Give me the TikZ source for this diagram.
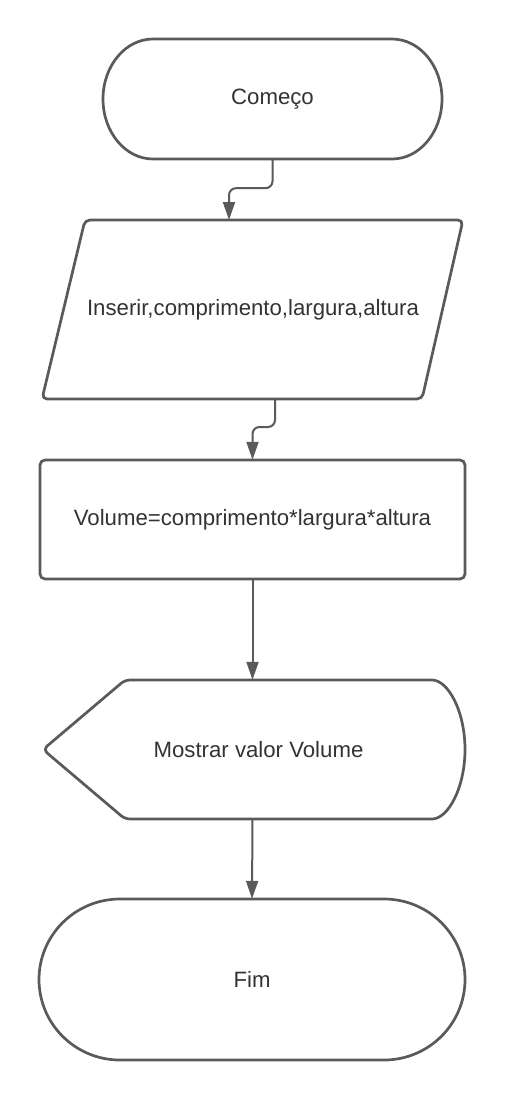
\documentclass[tikz,border=0pt]{standalone}
\usepackage{fontspec}
\setmainfont{Liberation Sans}
\usetikzlibrary{arrows.meta,calc}
\definecolor{stroke}{HTML}{5A5A5A}
\definecolor{txt}{HTML}{333333}
\begin{document}
\begin{tikzpicture}[x=1pt,y=-1pt,
  shapeline/.style={draw=stroke,line width=2.7pt,line join=round},
  lbl/.style={text=txt,font=\fontsize{22.2}{26}\selectfont,inner sep=0pt},
  arr/.style={draw=stroke,line width=2pt,rounded corners=7pt,-{Triangle[length=18pt,width=12pt]}}]
\useasboundingbox (0,0) rectangle (505,1100);
\fill[white] (0,0) rectangle (505,1100);

% shapes
\draw[shapeline] (153,39) -- (392,39) arc[start angle=-90,end angle=90,x radius=50,y radius=60]
  -- (153,159) arc[start angle=90,end angle=270,x radius=50,y radius=60] -- cycle;
\draw[shapeline,rounded corners=5pt] (85,220) -- (463,220) -- (422,399) -- (42,399) -- cycle;
\draw[shapeline,rounded corners=5pt] (40,460) rectangle (465,579);
\draw[shapeline,rounded corners=5pt] (43,749.5) -- (125,680) -- (427,680)
  arc[start angle=-90,end angle=90,x radius=38,y radius=69.5] -- (125,819) -- cycle;
\draw[shapeline] (120,899) -- (384,899) arc[start angle=-90,end angle=90,x radius=81,y radius=80.5]
  -- (120,1060) arc[start angle=90,end angle=270,x radius=81,y radius=80.5] -- cycle;

% nodes
\node[lbl,minimum width=339pt,minimum height=120pt] (start) at (272.5,99) {Começo};
\node[lbl,minimum width=380pt,minimum height=179pt] (inp) at (253,309.5) {Inserir,comprimento,largura,altura};
\node[lbl,minimum width=425pt,minimum height=119pt] (vol) at (252.5,519.5) {Volume=comprimento*largura*altura};
\node[lbl,minimum width=410pt,minimum height=139pt] (disp) at (258.5,749.5) {Mostrar valor Volume};
\node[lbl,minimum width=426pt,minimum height=161pt] (fim) at (252,979.5) {Fim};

\coordinate (inpIn) at (229,220);
\coordinate (inpOut) at (275,399);

% connectors
\draw[arr] (start.south) -- ++(0,29) -| (inpIn);
\draw[arr] (inpOut) -- ++(0,28) -| (vol.north);
\draw[arr] (vol.south) -- (vol.south |- disp.north);
\draw[arr] (vol.south |- disp.south) -- (fim.north);
\end{tikzpicture}
\end{document}
